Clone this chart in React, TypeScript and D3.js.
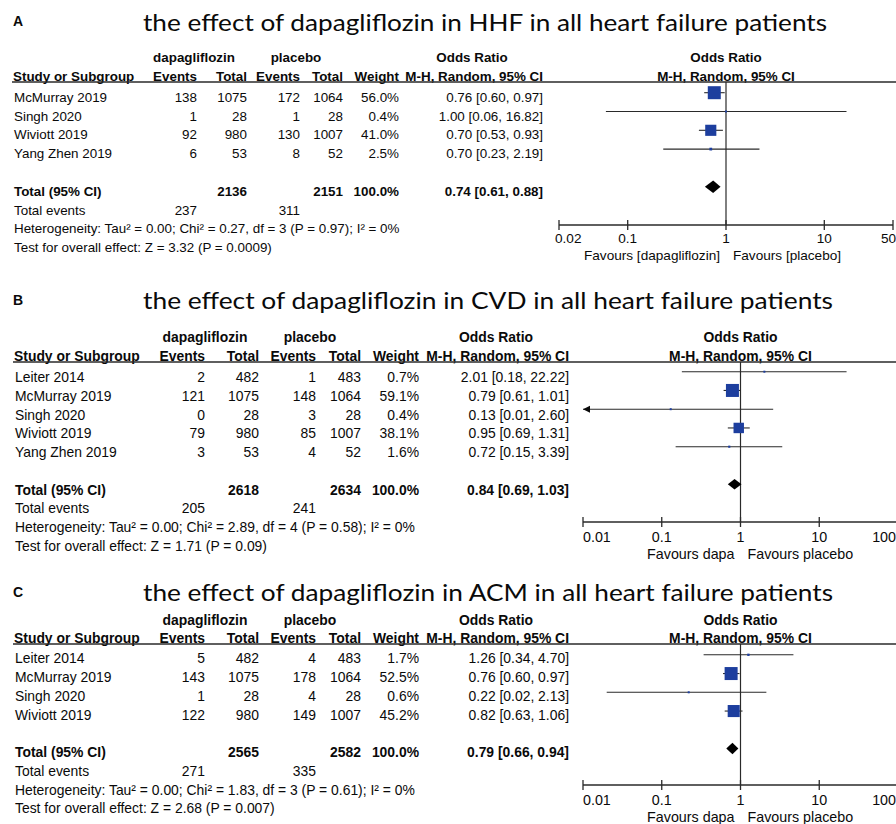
import React from "react";
import * as d3 from "d3";

// ---- A: hospitalisation for heart failure (HHF) ----
const hhfStudies = ["McMurray 2019", "Singh 2020", "Wiviott 2019", "Yang Zhen 2019"];
const hhfDapaEvents = [138, 1, 92, 6];
const hhfDapaTotal = [1075, 28, 980, 53];
const hhfPlacEvents = [172, 1, 130, 8];
const hhfPlacTotal = [1064, 28, 1007, 52];
const hhfWeight = [56.0, 0.4, 41.0, 2.5];
const hhfOR = [0.76, 1.0, 0.7, 0.7];
const hhfLower = [0.6, 0.06, 0.53, 0.23];
const hhfUpper = [0.97, 16.82, 0.93, 2.19];
const hhfPooled = [0.74, 0.61, 0.88];
const hhfTotals = [2136, 2151];
const hhfTotalEvents = [237, 311];
const hhfHeterogeneity = "Heterogeneity: Tau² = 0.00; Chi² = 0.27, df = 3 (P = 0.97); I² = 0%";
const hhfOverall = "Test for overall effect: Z = 3.32 (P = 0.0009)";
const hhfTicks = [0.02, 0.1, 1, 10, 50];
const hhfFavours = ["Favours [dapagliflozin]", "Favours [placebo]"];

// ---- B: cardiovascular death (CVD) ----
const cvdStudies = ["Leiter 2014", "McMurray 2019", "Singh 2020", "Wiviott 2019", "Yang Zhen 2019"];
const cvdDapaEvents = [2, 121, 0, 79, 3];
const cvdDapaTotal = [482, 1075, 28, 980, 53];
const cvdPlacEvents = [1, 148, 3, 85, 4];
const cvdPlacTotal = [483, 1064, 28, 1007, 52];
const cvdWeight = [0.7, 59.1, 0.4, 38.1, 1.6];
const cvdOR = [2.01, 0.79, 0.13, 0.95, 0.72];
const cvdLower = [0.18, 0.61, 0.01, 0.69, 0.15];
const cvdUpper = [22.22, 1.01, 2.6, 1.31, 3.39];
const cvdPooled = [0.84, 0.69, 1.03];
const cvdTotals = [2618, 2634];
const cvdTotalEvents = [205, 241];
const cvdHeterogeneity = "Heterogeneity: Tau² = 0.00; Chi² = 2.89, df = 4 (P = 0.58); I² = 0%";
const cvdOverall = "Test for overall effect: Z = 1.71 (P = 0.09)";
const cvdTicks = [0.01, 0.1, 1, 10, 100];
const cvdFavours = ["Favours dapa", "Favours placebo"];

// ---- C: all-cause mortality (ACM) ----
const acmStudies = ["Leiter 2014", "McMurray 2019", "Singh 2020", "Wiviott 2019"];
const acmDapaEvents = [5, 143, 1, 122];
const acmDapaTotal = [482, 1075, 28, 980];
const acmPlacEvents = [4, 178, 4, 149];
const acmPlacTotal = [483, 1064, 28, 1007];
const acmWeight = [1.7, 52.5, 0.6, 45.2];
const acmOR = [1.26, 0.76, 0.22, 0.82];
const acmLower = [0.34, 0.6, 0.02, 0.63];
const acmUpper = [4.7, 0.97, 2.13, 1.06];
const acmPooled = [0.79, 0.66, 0.94];
const acmTotals = [2565, 2582];
const acmTotalEvents = [271, 335];
const acmHeterogeneity = "Heterogeneity: Tau² = 0.00; Chi² = 1.83, df = 3 (P = 0.61); I² = 0%";
const acmOverall = "Test for overall effect: Z = 2.68 (P = 0.007)";
const acmTicks = [0.01, 0.1, 1, 10, 100];
const acmFavours = ["Favours dapa", "Favours placebo"];

const titles = [
  "the effect of dapagliflozin in HHF in all heart failure patients",
  "the effect of dapagliflozin in CVD in all heart failure patients",
  "the effect of dapagliflozin in ACM in all heart failure patients",
];
const panelLetters = ["A", "B", "C"];

type PanelData = {
  studies: string[];
  dE: number[];
  dT: number[];
  pE: number[];
  pT: number[];
  w: number[];
  or: number[];
  lo: number[];
  hi: number[];
  pooled: number[];
  totals: number[];
  events: number[];
  het: string;
  overall: string;
  ticks: number[];
  favours: string[];
};

const panels: PanelData[] = [
  { studies: hhfStudies, dE: hhfDapaEvents, dT: hhfDapaTotal, pE: hhfPlacEvents, pT: hhfPlacTotal, w: hhfWeight, or: hhfOR, lo: hhfLower, hi: hhfUpper, pooled: hhfPooled, totals: hhfTotals, events: hhfTotalEvents, het: hhfHeterogeneity, overall: hhfOverall, ticks: hhfTicks, favours: hhfFavours },
  { studies: cvdStudies, dE: cvdDapaEvents, dT: cvdDapaTotal, pE: cvdPlacEvents, pT: cvdPlacTotal, w: cvdWeight, or: cvdOR, lo: cvdLower, hi: cvdUpper, pooled: cvdPooled, totals: cvdTotals, events: cvdTotalEvents, het: cvdHeterogeneity, overall: cvdOverall, ticks: cvdTicks, favours: cvdFavours },
  { studies: acmStudies, dE: acmDapaEvents, dT: acmDapaTotal, pE: acmPlacEvents, pT: acmPlacTotal, w: acmWeight, or: acmOR, lo: acmLower, hi: acmUpper, pooled: acmPooled, totals: acmTotals, events: acmTotalEvents, het: acmHeterogeneity, overall: acmOverall, ticks: acmTicks, favours: acmFavours },
];

type Layout = {
  labelY: number;
  titleY: number;
  titleLen: number;
  head1: number;
  head2: number;
  rule: number;
  row0: number;
  step: number;
  fs: number;
  ffs: number;
  left: number;
  cols: number[]; // right edges: dEvents, dTotal, pEvents, pTotal, weight, CI
  groupCenters: number[]; // dapagliflozin, placebo, Odds Ratio
  range: [number, number];
  axisY: number;
  tickY: number;
  favY: number;
  markDy: number;
  diamondH: number;
  leftTickDx: number;
};

const layouts: Layout[] = [
  {
    labelY: 26, titleY: 31, titleLen: 684, head1: 57, head2: 76, rule: 82, row0: 97, step: 18.8,
    fs: 13.4, ffs: 13.6, left: 14,
    cols: [197, 247, 300, 343, 399, 543], groupCenters: [194, 296, 472],
    range: [559, 893], axisY: 225, tickY: 238, favY: 255, markDy: -4.3, diamondH: 12.5, leftTickDx: -4,
  },
  {
    labelY: 305, titleY: 309, titleLen: 690, head1: 337, head2: 355.5, rule: 362, row0: 377, step: 18.75,
    fs: 13.9, ffs: 14.3, left: 15,
    cols: [205, 259, 316, 361, 419, 569], groupCenters: [205, 310, 496],
    range: [583, 898], axisY: 522, tickY: 537, favY: 553.5, markDy: -5.3, diamondH: 10.5, leftTickDx: 0,
  },
  {
    labelY: 597, titleY: 601, titleLen: 690, head1: 620, head2: 638.3, rule: 644, row0: 658.3, step: 18.75,
    fs: 13.9, ffs: 14.3, left: 15,
    cols: [205, 259, 316, 361, 419, 569], groupCenters: [205, 310, 496],
    range: [583, 898], axisY: 785, tickY: 800, favY: 816.7, markDy: -3.5, diamondH: 11.5, leftTickDx: 0,
  },
];

const FONT = "'Liberation Sans', Arial, Helvetica, sans-serif";
const TITLE_FONT = "Lato, 'Open Sans', sans-serif";
const INK = "#0a0a0a";
const LINE = "#2a2a2a";
const SQUARE = "#1d3e9e";

const fmtCI = (v: number[]) => `${v[0].toFixed(2)} [${v[1].toFixed(2)}, ${v[2].toFixed(2)}]`;

function Txt(props: {
  x: number;
  y: number; // visual centre of capitals
  fs: number;
  anchor?: "start" | "middle" | "end";
  bold?: boolean;
  children: React.ReactNode;
}) {
  const { x, y, fs, anchor = "start", bold = false, children } = props;
  return (
    <text
      x={x}
      y={y + fs * 0.36}
      fontSize={fs}
      fontFamily={FONT}
      fontWeight={bold ? "bold" : "normal"}
      textAnchor={anchor}
      fill={INK}
    >
      {children}
    </text>
  );
}

function ForestPanel({ d, L, idx }: { d: PanelData; L: Layout; idx: number }) {
  const domain = d3.extent(d.ticks) as [number, number];
  const x = d3.scaleLog().domain(domain).range(L.range);
  const rowY = (i: number) => L.row0 + i * L.step;
  const n = d.studies.length;
  const totalY = rowY(n + 1);
  const maxW = d3.max(d.w) as number;
  const side = (w: number) => Math.max(2, 13 * Math.sqrt(w / maxW));
  const [dE, dT, pE, pT, wC, ciC] = L.cols;
  const x1 = x(1);
  const fs = L.fs;

  return (
    <g>
      {/* panel letter and title */}
      <text x={13} y={L.labelY} fontSize={14} fontWeight="bold" fontFamily={FONT} fill={INK}>
        {panelLetters[idx]}
      </text>
      <text
        x={143}
        y={L.titleY}
        fontSize={23}
        fontFamily={TITLE_FONT}
        fill={INK}
        textLength={L.titleLen}
        lengthAdjust="spacingAndGlyphs"
      >
        {titles[idx]}
      </text>

      {/* column headers */}
      <Txt x={L.groupCenters[0]} y={L.head1} fs={fs} anchor="middle" bold>dapagliflozin</Txt>
      <Txt x={L.groupCenters[1]} y={L.head1} fs={fs} anchor="middle" bold>placebo</Txt>
      <Txt x={L.groupCenters[2]} y={L.head1} fs={fs} anchor="middle" bold>Odds Ratio</Txt>
      <Txt x={x1} y={L.head1} fs={fs} anchor="middle" bold>Odds Ratio</Txt>
      <Txt x={L.left - 1} y={L.head2} fs={fs} bold>Study or Subgroup</Txt>
      <Txt x={dE} y={L.head2} fs={fs} anchor="end" bold>Events</Txt>
      <Txt x={dT} y={L.head2} fs={fs} anchor="end" bold>Total</Txt>
      <Txt x={pE} y={L.head2} fs={fs} anchor="end" bold>Events</Txt>
      <Txt x={pT} y={L.head2} fs={fs} anchor="end" bold>Total</Txt>
      <Txt x={wC} y={L.head2} fs={fs} anchor="end" bold>Weight</Txt>
      <Txt x={ciC} y={L.head2} fs={fs} anchor="end" bold>M-H, Random, 95% CI</Txt>
      <Txt x={x1} y={L.head2} fs={fs} anchor="middle" bold>M-H, Random, 95% CI</Txt>
      <line x1={L.left - 2} x2={896} y1={L.rule} y2={L.rule} stroke={LINE} strokeWidth={1.3} />

      {/* study rows */}
      {d.studies.map((s, i) => (
        <g key={s}>
          <Txt x={L.left} y={rowY(i)} fs={fs}>{s}</Txt>
          <Txt x={dE} y={rowY(i)} fs={fs} anchor="end">{d.dE[i]}</Txt>
          <Txt x={dT} y={rowY(i)} fs={fs} anchor="end">{d.dT[i]}</Txt>
          <Txt x={pE} y={rowY(i)} fs={fs} anchor="end">{d.pE[i]}</Txt>
          <Txt x={pT} y={rowY(i)} fs={fs} anchor="end">{d.pT[i]}</Txt>
          <Txt x={wC} y={rowY(i)} fs={fs} anchor="end">{d.w[i].toFixed(1)}%</Txt>
          <Txt x={ciC} y={rowY(i)} fs={fs} anchor="end">{fmtCI([d.or[i], d.lo[i], d.hi[i]])}</Txt>
        </g>
      ))}

      {/* totals */}
      <Txt x={L.left} y={totalY} fs={fs} bold>Total (95% CI)</Txt>
      <Txt x={dT} y={totalY} fs={fs} anchor="end" bold>{d.totals[0]}</Txt>
      <Txt x={pT} y={totalY} fs={fs} anchor="end" bold>{d.totals[1]}</Txt>
      <Txt x={wC} y={totalY} fs={fs} anchor="end" bold>100.0%</Txt>
      <Txt x={ciC} y={totalY} fs={fs} anchor="end" bold>{fmtCI(d.pooled)}</Txt>
      <Txt x={L.left} y={rowY(n + 2)} fs={fs}>Total events</Txt>
      <Txt x={dE} y={rowY(n + 2)} fs={fs} anchor="end">{d.events[0]}</Txt>
      <Txt x={pE} y={rowY(n + 2)} fs={fs} anchor="end">{d.events[1]}</Txt>
      <Txt x={L.left} y={rowY(n + 3)} fs={fs}>{d.het}</Txt>
      <Txt x={L.left} y={rowY(n + 4)} fs={fs}>{d.overall}</Txt>

      {/* line of no effect */}
      <line x1={x1} x2={x1} y1={L.rule} y2={L.axisY} stroke={LINE} strokeWidth={1.2} />

      {/* study estimates */}
      {d.studies.map((s, i) => {
        const y = rowY(i) + L.markDy;
        const clipLo = d.lo[i] <= domain[0];
        const clipHi = d.hi[i] >= domain[1];
        const xl = x(Math.max(d.lo[i], domain[0]));
        const xh = x(Math.min(d.hi[i], domain[1]));
        const sz = side(d.w[i]);
        return (
          <g key={"m" + s}>
            <line x1={xl} x2={xh} y1={y} y2={y} stroke={LINE} strokeWidth={1.1} />
            {clipLo && <path d={`M${xl},${y}L${xl + 7},${y - 3.5}L${xl + 7},${y + 3.5}Z`} fill={INK} />}
            {clipHi && <path d={`M${xh},${y}L${xh - 7},${y - 3.5}L${xh - 7},${y + 3.5}Z`} fill={INK} />}
            <rect x={x(d.or[i]) - sz / 2} y={y - sz / 2} width={sz} height={sz} fill={SQUARE} />
          </g>
        );
      })}

      {/* pooled diamond */}
      {(() => {
        const y = totalY + L.markDy;
        const h = L.diamondH / 2;
        const [m, lo, hi] = d.pooled;
        return (
          <path
            d={`M${x(lo)},${y}L${x(m)},${y - h}L${x(hi)},${y}L${x(m)},${y + h}Z`}
            fill="#000"
          />
        );
      })()}

      {/* log axis */}
      <line x1={L.range[0]} x2={L.range[1]} y1={L.axisY} y2={L.axisY} stroke={LINE} strokeWidth={1.3} />
      {d.ticks.map((t, i) => {
        const tx = x(t);
        const last = i === d.ticks.length - 1;
        const first = i === 0;
        return (
          <g key={"t" + t}>
            <line x1={tx} x2={tx} y1={L.axisY - 5} y2={L.axisY + 5} stroke={LINE} strokeWidth={1.3} />
            <Txt
              x={first ? tx + L.leftTickDx : last ? 896 : tx}
              y={L.tickY}
              fs={L.ffs}
              anchor={first ? "start" : last ? "end" : "middle"}
            >
              {String(t)}
            </Txt>
          </g>
        );
      })}
      <Txt x={x1 - 6} y={L.favY} fs={L.ffs} anchor="end">{d.favours[0]}</Txt>
      <Txt x={x1 + 7} y={L.favY} fs={L.ffs}>{d.favours[1]}</Txt>
    </g>
  );
}

export default function App() {
  return (
    <svg
      width={896}
      height={824}
      viewBox="0 0 896 824"
      style={{ position: "absolute", left: 0, top: 0, background: "#fff" }}
    >
      <rect width={896} height={824} fill="#fff" />
      {panels.map((p, i) => (
        <ForestPanel key={i} d={p} L={layouts[i]} idx={i} />
      ))}
    </svg>
  );
}
